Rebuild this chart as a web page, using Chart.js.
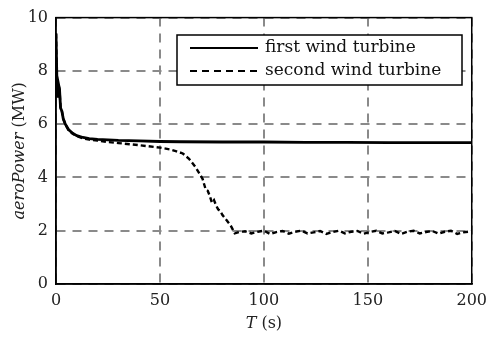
<!DOCTYPE html>
<html>
<head>
<meta charset="utf-8">
<script src="https://cdn.jsdelivr.net/npm/chart.js@4/dist/chart.umd.min.js"></script>
<style>
  html, body { margin: 0; padding: 0; background: #fff; }
  #wrap { width: 494px; height: 343px; }
</style>
</head>
<body>
<div id="wrap"><canvas id="powerChart"></canvas></div>
<script>
// Puissance aérodynamique des deux éoliennes (MW) en fonction du temps (s)
const xTicks = [0, 50, 100, 150, 200];
const yTicks = [0, 2, 4, 6, 8, 10];
const seriesNames = ['first wind turbine', 'second wind turbine'];

const time1 = [0, 0.6, 1.2, 1.7, 2.2, 2.8, 3.5, 4.5, 6, 8, 10, 13, 16, 20, 25, 30, 40, 50, 60, 80, 100, 120, 140, 160, 180, 200];
const power1 = [9.4, 7.0, 7.5, 7.3, 6.6, 6.5, 6.2, 6.0, 5.8, 5.66, 5.57, 5.5, 5.46, 5.43, 5.41, 5.39, 5.37, 5.35, 5.34, 5.33, 5.33, 5.32, 5.32, 5.31, 5.31, 5.31];

const time2 = [0, 0.6, 1.2, 1.7, 2.2, 2.8, 3.5, 4.5, 6, 8, 10, 13, 16, 20, 25, 30, 40, 50, 55, 58, 61, 64, 67, 69, 70.5, 72, 73, 74, 75, 76, 77, 78, 79, 80, 82, 84, 85, 86, 88,
  91, 94, 97, 100, 103, 106, 109, 112, 115, 118, 121, 124, 127, 130, 133, 136, 139, 142, 145, 148, 151, 154, 157, 160, 163, 166, 169, 172, 175, 178, 181, 184, 187, 190, 193, 196, 200];
const power2 = [9.4, 7.0, 7.5, 7.3, 6.6, 6.5, 6.2, 6.0, 5.78, 5.64, 5.55, 5.47, 5.42, 5.38, 5.33, 5.29, 5.21, 5.12, 5.05, 4.98, 4.9, 4.7, 4.4, 4.15, 3.95, 3.55, 3.5, 3.3, 3.05, 3.15, 2.95, 2.8, 2.75, 2.6, 2.4, 2.2, 2.05, 1.9, 1.95,
  1.98, 1.9, 1.96, 2.0, 1.88, 1.95, 1.99, 1.89, 1.96, 2.0, 1.9, 1.94, 1.99, 1.88, 1.95, 2.0, 1.9, 1.96, 1.99, 1.89, 1.95, 2.0, 1.9, 1.94, 1.99, 1.88, 1.96, 2.0, 1.9, 1.95, 1.99, 1.89, 1.96, 2.0, 1.88, 1.94, 1.98];

const serif = "'DejaVu Serif', serif";

const toPoints = (xs, ys) => xs.map((x, i) => ({ x: x, y: ys[i] }));

// Cadre, titres des axes et légende encadrée
const decorations = {
    id: 'decorations',
    afterDraw(chart) {
        const ctx = chart.ctx;
        const a = chart.chartArea;
        ctx.save();

        // cadre complet autour de la zone de tracé
        ctx.strokeStyle = '#000';
        ctx.lineWidth = 1.5;
        ctx.setLineDash([]);
        ctx.strokeRect(a.left, a.top, a.right - a.left, a.bottom - a.top);

        // titre de l'axe x : "T (s)"
        ctx.fillStyle = '#222';
        ctx.textBaseline = 'middle';
        const cx = (a.left + a.right) / 2;
        ctx.font = 'italic 16px ' + serif;
        const wT = ctx.measureText('T').width;
        ctx.font = '16px ' + serif;
        const wS = ctx.measureText(' (s)').width;
        let x0 = cx - (wT + wS) / 2;
        ctx.textAlign = 'left';
        ctx.font = 'italic 16px ' + serif;
        ctx.fillText('T', x0, 324);
        ctx.font = '16px ' + serif;
        ctx.fillText(' (s)', x0 + wT, 324);

        // titre de l'axe y : "aeroPower (MW)"
        ctx.save();
        ctx.translate(20, (a.top + a.bottom) / 2);
        ctx.rotate(-Math.PI / 2);
        ctx.font = 'italic 16px ' + serif;
        const wA = ctx.measureText('aeroPower').width;
        ctx.font = '16px ' + serif;
        const wM = ctx.measureText(' (MW)').width;
        x0 = -(wA + wM) / 2;
        ctx.font = 'italic 16px ' + serif;
        ctx.fillText('aeroPower', x0, 0);
        ctx.font = '16px ' + serif;
        ctx.fillText(' (MW)', x0 + wA, 0);
        ctx.restore();

        // légende
        const bx = 177, by = 35, bw = 285, bh = 50;
        ctx.fillStyle = '#fff';
        ctx.fillRect(bx, by, bw, bh);
        ctx.strokeStyle = '#000';
        ctx.lineWidth = 1.5;
        ctx.strokeRect(bx, by, bw, bh);

        ctx.lineWidth = 2.2;
        ctx.beginPath();
        ctx.moveTo(190, 48);
        ctx.lineTo(258, 48);
        ctx.stroke();
        ctx.setLineDash([7, 5]);
        ctx.beginPath();
        ctx.moveTo(190, 71);
        ctx.lineTo(258, 71);
        ctx.stroke();
        ctx.setLineDash([]);

        ctx.fillStyle = '#111';
        ctx.font = '17px ' + serif;
        ctx.textAlign = 'left';
        ctx.fillText(seriesNames[0], 265, 48);
        ctx.fillText(seriesNames[1], 265, 71);
        ctx.restore();
    }
};

new Chart(document.getElementById('powerChart'), {
    type: 'line',
    data: {
        datasets: [
            {
                label: seriesNames[1],
                data: toPoints(time2, power2),
                borderColor: '#000',
                borderWidth: 2.4,
                borderDash: [5, 3],
                pointRadius: 0,
                tension: 0
            },
            {
                label: seriesNames[0],
                data: toPoints(time1, power1),
                borderColor: '#000',
                borderWidth: 2.8,
                pointRadius: 0,
                tension: 0
            }
        ]
    },
    options: {
        responsive: true,
        maintainAspectRatio: false,
        animation: false,
        layout: { padding: { left: 0, top: 12, right: 22, bottom: 0 } },
        plugins: {
            legend: { display: false },
            tooltip: { enabled: false }
        },
        scales: {
            x: {
                type: 'linear',
                min: 0,
                max: 200,
                afterBuildTicks: s => { s.ticks = xTicks.map(v => ({ value: v })); },
                afterFit: s => { s.height = 59; },
                ticks: { color: '#222', font: { family: serif, size: 16 }, padding: 7, maxRotation: 0 },
                grid: { color: '#8a8a8a', lineWidth: 2, drawTicks: false },
                border: { display: true, color: '#000', width: 1.5, dash: [9, 7] }
            },
            y: {
                type: 'linear',
                min: 0,
                max: 10,
                afterBuildTicks: s => { s.ticks = yTicks.map(v => ({ value: v })); },
                afterFit: s => { s.width = 56; },
                ticks: { color: '#222', font: { family: serif, size: 16 }, padding: 8 },
                grid: { color: '#8a8a8a', lineWidth: 2, drawTicks: false },
                border: { display: true, color: '#000', width: 1.5, dash: [9, 7] }
            }
        }
    },
    plugins: [decorations]
});
</script>
</body>
</html>
